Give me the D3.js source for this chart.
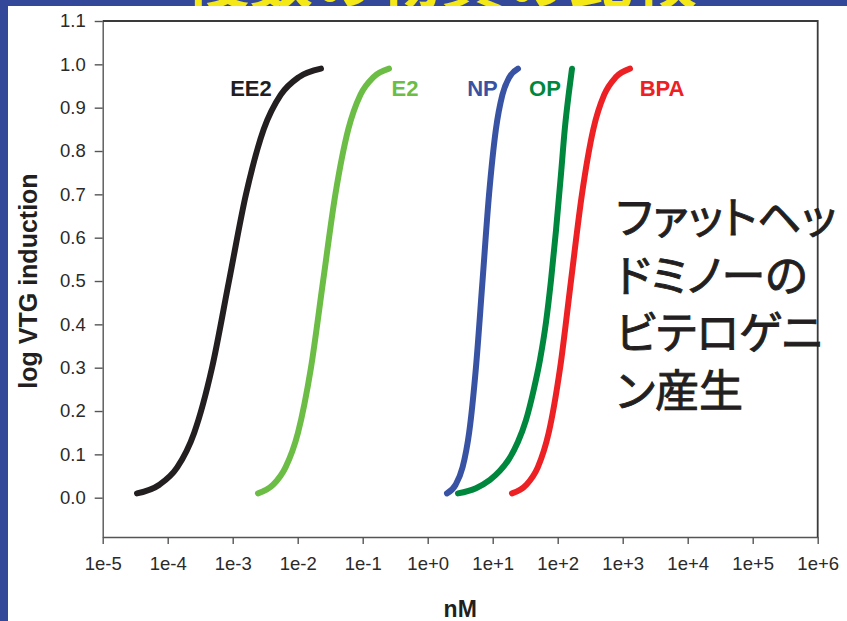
<!DOCTYPE html>
<html>
<head>
<meta charset="utf-8">
<script src="https://cdn.jsdelivr.net/npm/d3@7"></script>
<style>
  html, body { margin: 0; padding: 0; background: #34489a; }
  svg { display: block; }
</style>
</head>
<body>
<svg id="chart" width="847" height="621"></svg>
<script>
// Dose–response of vitellogenin (VTG) induction for five estrogenic compounds
const compounds = ["EE2", "E2", "NP", "OP", "BPA"];
const colors = ["#231f20", "#6cbd45", "#3953a4", "#00873e", "#ed2024"];

// Response levels (log VTG induction) sampled along each curve
const responses = [0.01, 0.03, 0.07, 0.15, 0.3, 0.5, 0.7, 0.85, 0.93, 0.97, 0.99];
// Concentrations (nM) at those response levels
const concEE2 = [3.37e-5, 7.46e-5, 1.40e-4, 2.56e-4, 4.81e-4, 8.77e-4, 1.60e-3, 3.00e-3, 5.50e-3, 1.03e-2, 2.28e-2];
const concE2  = [2.45e-3, 4.20e-3, 6.50e-3, 1.01e-2, 1.60e-2, 2.46e-2, 3.80e-2, 6.00e-2, 9.23e-2, 0.145, 0.254];
const concNP  = [1.98, 2.69, 3.44, 4.34, 5.52, 6.97, 8.79, 11.2, 14.1, 18.0, 24.5];
const concBPA = [19.8, 33.0, 49.4, 72.8, 109, 160, 236, 353, 520, 779, 1296];
// OP curve is skewed, sampled on its own response levels
const respOP = [0.01, 0.022, 0.041, 0.062, 0.089, 0.129, 0.179, 0.242, 0.318, 0.405, 0.502, 0.617, 0.744, 0.853, 0.936, 0.99];
const concOP = [2.92, 5.53, 9.08, 12.9, 17.8, 24.5, 32.5, 41.7, 53.4, 66.1, 78.9, 94.2, 112, 129, 149, 166];

// Where each compound name sits (concentration, response)
const labelConc = [1.91e-3, 0.448, 6.97, 63.8, 4030];
const labelResp = 0.927;

const xTicks = [1e-5, 1e-4, 1e-3, 1e-2, 1e-1, 1e0, 1e1, 1e2, 1e3, 1e4, 1e5, 1e6];
const xTickLabels = ["1e-5", "1e-4", "1e-3", "1e-2", "1e-1", "1e+0", "1e+1", "1e+2", "1e+3", "1e+4", "1e+5", "1e+6"];
const yTicks = [0, 0.1, 0.2, 0.3, 0.4, 0.5, 0.6, 0.7, 0.8, 0.9, 1.0, 1.1];

const noteLines = ["ファットヘッ", "ドミノーの", "ビテロゲニ", "ン産生"];
const slideTitle = "複数の物質の比較";

const series = [
  { x: concEE2, y: responses },
  { x: concE2,  y: responses },
  { x: concNP,  y: responses },
  { x: concOP,  y: respOP },
  { x: concBPA, y: responses }
];

const svg = d3.select("#chart");

// slide title (mostly hidden behind the white panel)
svg.append("text")
  .attr("x", 185).attr("y", 3)
  .attr("font-family", "'Noto Sans CJK JP', sans-serif")
  .attr("font-weight", "bold")
  .attr("font-size", 64)
  .attr("fill", "#f4e816")
  .text(slideTitle);

// white content panel
svg.append("rect")
  .attr("x", 8).attr("y", 6)
  .attr("width", 847 - 8).attr("height", 621 - 6)
  .attr("fill", "#ffffff");

const plotLeft = 102.7, plotRight = 817.7, plotTop = 21, plotBottom = 537;

const x = d3.scaleLog().domain([1e-5, 1e6]).range([plotLeft, plotRight]);
const y = d3.scaleLinear().domain([-0.0907, 1.1]).range([plotBottom, plotTop]);

const tickFont = "'Liberation Sans', Arial, sans-serif";
const axisColor = "#555555";

// Y axis
const yAxis = svg.append("g")
  .attr("transform", `translate(${plotLeft},0)`)
  .call(d3.axisLeft(y).tickValues(yTicks).tickFormat(d3.format(".1f"))
    .tickSize(8).tickSizeOuter(0).tickPadding(9));

// X axis
const xAxis = svg.append("g")
  .attr("transform", `translate(0,${plotBottom})`)
  .call(d3.axisBottom(x).tickValues(xTicks)
    .tickFormat((d, i) => xTickLabels[i])
    .tickSize(7).tickSizeOuter(0).tickPadding(13));

[yAxis, xAxis].forEach(g => {
  g.select(".domain").attr("stroke", axisColor).attr("stroke-width", 1.4);
  g.selectAll(".tick line").attr("stroke", axisColor).attr("stroke-width", 1.4);
  g.selectAll(".tick text")
    .attr("font-family", tickFont)
    .attr("font-size", 18.5)
    .attr("fill", "#2a2a2a");
});

// plot frame (top and right)
svg.append("path")
  .attr("d", `M${plotLeft},${plotTop}H${plotRight}V${plotBottom}`)
  .attr("fill", "none")
  .attr("stroke", "#3a3a3a")
  .attr("stroke-width", 1.8);

// axis titles
svg.append("text")
  .attr("transform", `translate(37,281) rotate(-90)`)
  .attr("text-anchor", "middle")
  .attr("font-family", tickFont)
  .attr("font-weight", "bold")
  .attr("font-size", 25)
  .attr("fill", "#231f20")
  .text("log VTG induction");

svg.append("text")
  .attr("x", (plotLeft + plotRight) / 2).attr("y", 617)
  .attr("text-anchor", "middle")
  .attr("font-family", tickFont)
  .attr("font-weight", "bold")
  .attr("font-size", 23)
  .attr("fill", "#231f20")
  .text("nM");

// dose–response curves
const line = d3.line()
  .x(d => x(d[0]))
  .y(d => y(d[1]))
  .curve(d3.curveMonotoneX);

series.forEach((s, i) => {
  const pts = s.x.map((c, j) => [c, s.y[j]]);
  svg.append("path")
    .datum(pts)
    .attr("d", line)
    .attr("fill", "none")
    .attr("stroke", colors[i])
    .attr("stroke-width", 6)
    .attr("stroke-linecap", "round")
    .attr("stroke-linejoin", "round");
});

// compound names
compounds.forEach((name, i) => {
  svg.append("text")
    .attr("x", x(labelConc[i]))
    .attr("y", y(labelResp))
    .attr("text-anchor", "middle")
    .attr("font-family", tickFont)
    .attr("font-weight", "bold")
    .attr("font-size", 22)
    .attr("fill", colors[i])
    .text(name);
});

// note text: one text element per line, medium-weight look via a thin outline
noteLines.forEach((t, i) => {
  svg.append("text")
    .attr("x", 616)
    .attr("y", 234 + i * 57.5)
    .attr("font-family", "'Noto Sans CJK JP', sans-serif")
    .attr("font-size", 44)
    .attr("fill", "#231f20")
    .attr("stroke", "#231f20")
    .attr("stroke-width", 0.9)
    .style("font-feature-settings", "'palt'")
    .text(t);
});
</script>
</body>
</html>
